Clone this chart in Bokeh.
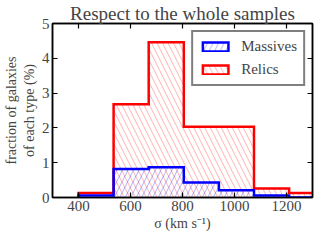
from bokeh.plotting import figure
from bokeh.models import LinearAxis, Legend, LegendItem, FixedTicker, Range1d
from bokeh.embed import file_html
from bokeh.resources import INLINE

# Data (fraction of galaxies, %)
bin_edges = [400, 535, 670, 805, 940, 1075, 1210, 1345]
massives = [0.06, 0.82, 0.87, 0.43, 0.21, 0.06, 0.0]
relics = [0.13, 2.68, 4.46, 2.03, 2.03, 0.26, 0.13]
x_ticks = [400, 600, 800, 1000, 1200]
y_ticks = [0, 1, 2, 3, 4, 5]
series_names = ["Massives", "Relics"]

X_START, X_END = 300, 1300
Y_START, Y_END = 0, 5
BASE = Y_START - 0.3  # closes the outline below the visible range


def step_outline(edges, vals, base):
    xs = [edges[0]]
    ys = [base]
    for i, v in enumerate(vals):
        xs += [edges[i], edges[i + 1]]
        ys += [v, v]
    xs.append(edges[-1])
    ys.append(base)
    return xs, ys


SERIF = "Liberation Serif"

p = figure(width=316, height=233, output_backend="svg", toolbar_location=None,
           x_range=Range1d(X_START, X_END), y_range=Range1d(Y_START, Y_END),
           title="Respect to the whole samples",
           min_border_left=2, min_border_right=4, min_border_top=0, min_border_bottom=1)

p.title.text_font = SERIF
p.title.text_font_size = "19px"
p.title.text_font_style = "normal"
p.title.align = "center"
p.title.standoff = 0

p.xgrid.visible = False
p.ygrid.visible = False
p.outline_line_color = "black"
p.outline_line_width = 1.5
p.background_fill_color = "white"

rx, ry = step_outline(bin_edges, relics, BASE)
red = p.patch(rx, ry, fill_alpha=0, line_color="#ff0000", line_width=2.5,
              hatch_pattern="\\", hatch_color="#ff0000", hatch_alpha=0.3,
              hatch_scale=11, hatch_weight=1, line_join="miter")
bx, by = step_outline(bin_edges, massives, BASE)
blue = p.patch(bx, by, fill_alpha=0, line_color="#0000ff", line_width=2.5,
               hatch_pattern="/", hatch_color="#0000ff", hatch_alpha=0.3,
               hatch_scale=11, hatch_weight=1, line_join="miter")

bottom = p.below[0]
left = p.left[0]
bottom.ticker = FixedTicker(ticks=x_ticks)
left.ticker = FixedTicker(ticks=y_ticks)
bottom.axis_label = "σ (km s⁻¹)"
left.axis_label = "fraction of galaxies\nof each type (%)"

top = LinearAxis(ticker=FixedTicker(ticks=x_ticks),
                 major_label_overrides={t: "" for t in x_ticks})
right = LinearAxis(ticker=FixedTicker(ticks=y_ticks),
                   major_label_overrides={t: "" for t in y_ticks})
for ax in (top, right):
    ax.major_label_standoff = 0
p.add_layout(top, "above")
p.add_layout(right, "right")

for ax in (bottom, left, top, right):
    ax.axis_line_width = 1.5
    ax.axis_line_color = "black"
    ax.major_tick_in = 5
    ax.major_tick_out = 0
    ax.major_tick_line_width = 1.2
    ax.minor_tick_line_color = None
    ax.major_label_text_font = SERIF
    ax.major_label_text_font_size = "15px"
    ax.axis_label_text_font = SERIF
    ax.axis_label_text_font_style = "normal"
    ax.axis_label_text_font_size = "14px"
    ax.axis_label_standoff = 2
for ax in (bottom, left):
    ax.major_label_standoff = 3

legend = Legend(items=[LegendItem(label=series_names[0], renderers=[blue]),
                       LegendItem(label=series_names[1], renderers=[red])],
                location="top_right", border_line_color="black", border_line_width=2,
                label_text_font=SERIF, label_text_font_size="15px",
                glyph_width=32, glyph_height=11, spacing=6, padding=6, margin=7,
                label_standoff=10, background_fill_alpha=1)
p.add_layout(legend)

open("out.html", "w").write(file_html(p, INLINE))
